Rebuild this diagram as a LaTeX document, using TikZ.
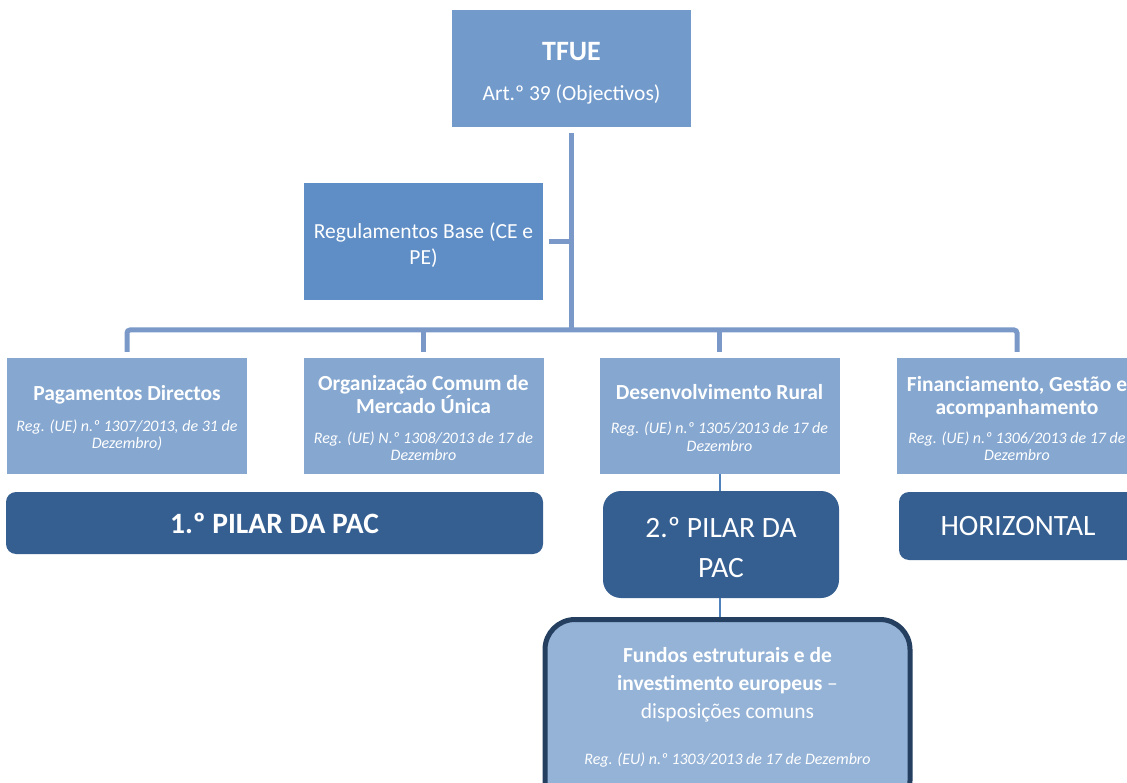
\documentclass[tikz,border=0pt]{standalone}
\usepackage{fontspec}
\setmainfont{Carlito}
\definecolor{tfuec}{RGB}{114,155,204}
\definecolor{regc}{RGB}{95,141,197}
\definecolor{lvlc}{RGB}{133,167,208}
\definecolor{darkc}{RGB}{54,95,145}
\definecolor{fundfill}{RGB}{149,179,215}
\definecolor{fundborder}{RGB}{36,63,96}
\definecolor{connc}{RGB}{122,152,200}
\definecolor{thinc}{RGB}{79,129,189}
\newcommand\fs[1]{\fontsize{#1}{#1}\selectfont}
\newcommand\tl{\fs{21.5}\bfseries}
\newcommand\nl{\fs{21.5}\mdseries}
\newcommand\il{\fs{16}\mdseries\itshape}
\newcommand\tightfont{\baselineskip=0pt\relax\lineskiplimit=-200pt\relax\lineskip=0pt\relax}
\newcommand\up[1]{\rule{0pt}{#1}}
\begin{document}
\begin{tikzpicture}[x=1pt,y=-1pt,
  tight/.style={font=\tightfont},
  box/.style={tight, inner sep=0pt, align=center, text=white, minimum width=239pt, minimum height=117pt},
  lvl/.style={box, fill=lvlc, minimum width=240pt, minimum height=116pt},
  pilar/.style={tight, inner sep=0pt, align=center, text=white, fill=darkc},
  conn/.style={line width=5pt, draw=connc},
  thin/.style={line width=2pt, draw=thinc}]
\useasboundingbox (0,0) rectangle (1127,783);
\begin{scope}
\clip (0,0) rectangle (1127,783);
% top
\node[box, fill=tfuec] (tfue) at (571.5,68.5)
  {\fs{28}\bfseries\up{27pt}TFUE\\[40pt]\nl Art.º 39 (Objectivos)};
\node[box, fill=regc] (reg) at (423.5,241.5)
  {\nl\up{23pt}Regulamentos Base (CE e\\[26pt]\nl PE)};
% level 2
\node[lvl] (pd) at (127,416)
  {\tl\up{20pt}Pagamentos Directos\\[31pt]\il Reg. (UE) n.º 1307/2013, de 31 de\\[17pt]\il Dezembro)};
\node[lvl] (ocm) at (423.5,416)
  {\tl\up{19pt}Organização Comum de\\[23pt]\tl Mercado Única\\[30pt]\il Reg. (UE) N.º 1308/2013 de 17 de\\[17pt]\il Dezembro};
\node[lvl] (dr) at (719.5,416)
  {\tl\up{19pt}Desenvolvimento Rural\\[34pt]\il Reg. (UE) n.º 1305/2013 de 17 de\\[18pt]\il Dezembro};
\node[lvl] (fin) at (1017,416)
  {\tl\up{20pt}Financiamento, Gestão e\\[23pt]\tl acompanhamento\\[29pt]\il Reg. (UE) n.º 1306/2013 de 17 de\\[17pt]\il Dezembro};
% pillars
\node[pilar, rounded corners=10pt, minimum width=537pt, minimum height=62pt] (p1) at (274.5,523)
  {\fs{29.5}\bfseries 1.º PILAR DA PAC};
\node[pilar, rounded corners=18pt, minimum width=236pt, minimum height=107pt] (p2) at (721,544.5)
  {\fs{29.5}\up{27pt}2.º PILAR DA\\[40pt]\fs{29.5}PAC};
\node[pilar, rounded corners=10pt, minimum width=238pt, minimum height=68pt] (hz) at (1018,526)
  {\fs{29.5}HORIZONTAL};
% fundos
\node[draw=fundborder, line width=5pt, fill=fundfill, rounded corners=30pt, inner sep=0pt,
  minimum width=365pt, minimum height=191pt] (fund) at (727.5,715) {};
\node[tight, align=center, text=white, inner sep=0pt] (fundtxt) at (727.5,707)
  {\tl Fundos estruturais e de\\[28pt]\tl investimento europeus \mdseries–\\[28pt]\nl disposições comuns\\[46pt]\il Reg. (EU) n.º 1303/2013 de 17 de Dezembro};
% connectors
\coordinate (busy) at (0,330);
\draw[conn] ([yshift=-6pt]tfue.south) -- (tfue.south |- busy);
\draw[conn] ([xshift=6pt]reg.east) -- (reg.east -| tfue.south);
\draw[conn, rounded corners=3pt] ([yshift=6pt]pd.north) -- (pd.north |- busy) -- (fin.north |- busy) -- ([yshift=6pt]fin.north);
\draw[conn] ([yshift=6pt]ocm.north) -- (ocm.north |- busy);
\draw[conn] ([yshift=6pt]dr.north) -- (dr.north |- busy);
\draw[thin] (dr.south) -- (dr.south |- p2.north);
\draw[thin] (dr.south |- p2.south) -- (dr.south |- fund.north);
\end{scope}
\end{tikzpicture}
\end{document}
